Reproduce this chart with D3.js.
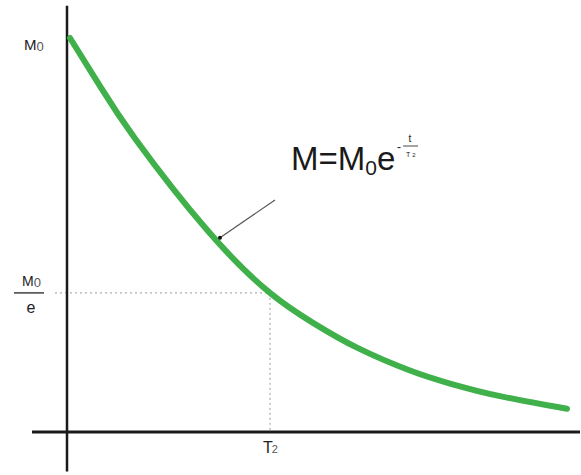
<!DOCTYPE html>
<html>
<head>
<meta charset="utf-8">
<script src="https://cdn.jsdelivr.net/npm/d3@7"></script>
<style>
  html, body { margin: 0; padding: 0; background: #fff; }
  svg { display: block; font-family: "Liberation Sans", Arial, sans-serif; }
</style>
</head>
<body>
<div id="chart"></div>
<script>
// ---- Data (t in units of T2, M in units of M0) ----
const tValues = [0, 0.15, 0.325, 0.69, 1.0, 1.215, 1.435, 1.70, 1.90, 2.15, 2.485];
const mValues = [1.0, 0.878, 0.745, 0.510, 0.353, 0.277, 0.214, 0.156, 0.123, 0.091, 0.059];
const guideT = [1.0];          // T2
const guideM = [0.353];        // M0/e level
const markerT = [0.75];        // annotation point on curve
const markerM = [0.493];
const axisLabelsY = ["M", "0"];
const formulaParts = ["M=M", "0", "e"];
const xTickLabel = ["T", "2"];

const W = 581, H = 475;
const svg = d3.select("#chart").append("svg").attr("width", W).attr("height", H);

const x = d3.scaleLinear().domain([0, 1]).range([70, 270]);
const y = d3.scaleLinear().domain([0, 1]).range([432, 38]);

// Dotted guides
svg.append("line")
  .attr("x1", x(-0.075)).attr("x2", x(guideT[0]))
  .attr("y1", y(guideM[0])).attr("y2", y(guideM[0]))
  .attr("stroke", "#9a9a9a").attr("stroke-width", 1).attr("stroke-dasharray", "2,3");
svg.append("line")
  .attr("x1", x(guideT[0])).attr("x2", x(guideT[0]))
  .attr("y1", y(guideM[0])).attr("y2", y(0))
  .attr("stroke", "#9a9a9a").attr("stroke-width", 1).attr("stroke-dasharray", "2,3");

// Axes
svg.append("line")
  .attr("x1", x(-0.015)).attr("x2", x(-0.015))
  .attr("y1", y(1.082)).attr("y2", y(-0.1))
  .attr("stroke", "#1a1a1a").attr("stroke-width", 2.5);
svg.append("line")
  .attr("x1", x(-0.19)).attr("x2", x(2.55))
  .attr("y1", y(0)).attr("y2", y(0))
  .attr("stroke", "#1a1a1a").attr("stroke-width", 3);

// Curve
const pts = tValues.map((t, i) => [t, mValues[i]]);
const line = d3.line().x(d => x(d[0])).y(d => y(d[1])).curve(d3.curveNatural);
svg.append("path").datum(pts)
  .attr("d", line)
  .attr("fill", "none")
  .attr("stroke", "#3fb04a")
  .attr("stroke-width", 6)
  .attr("stroke-linecap", "round");

// Annotation pointer
svg.append("line")
  .attr("x1", x(markerT[0])).attr("y1", y(markerM[0]))
  .attr("x2", x(1.025)).attr("y2", y(0.589))
  .attr("stroke", "#555").attr("stroke-width", 1.2);
svg.append("circle")
  .attr("cx", x(markerT[0])).attr("cy", y(markerM[0])).attr("r", 2)
  .attr("fill", "#111");

// Y label M0
const lab1 = svg.append("text").attr("x", 24).attr("y", y(1) + 12).attr("fill", "#222");
lab1.append("tspan").attr("font-size", 15).text(axisLabelsY[0]);
lab1.append("tspan").attr("font-size", 13).attr("fill", "#555").attr("dy", 1).text(axisLabelsY[1]);

// Y label M0/e
const lab2 = svg.append("text").attr("x", 22).attr("y", y(guideM[0]) - 7).attr("fill", "#222");
lab2.append("tspan").attr("font-size", 14).text(axisLabelsY[0]);
lab2.append("tspan").attr("font-size", 13).attr("fill", "#555").attr("dy", 1).text(axisLabelsY[1]);
svg.append("line").attr("x1", 14).attr("x2", 44)
  .attr("y1", y(guideM[0])).attr("y2", y(guideM[0]))
  .attr("stroke", "#222").attr("stroke-width", 1.3);
svg.append("text").attr("x", 31).attr("y", y(guideM[0]) + 20)
  .attr("text-anchor", "middle").attr("font-size", 16).attr("fill", "#222").text("e");

// X label T2
const lab3 = svg.append("text").attr("x", x(guideT[0]) - 7).attr("y", y(0) + 21).attr("fill", "#222");
lab3.append("tspan").attr("font-size", 16).text(xTickLabel[0]);
lab3.append("tspan").attr("font-size", 11).attr("fill", "#555").attr("dx", -1).text(xTickLabel[1]);

// Formula
const f = svg.append("text").attr("x", 291).attr("y", 170).attr("fill", "#1a1a1a");
f.append("tspan").attr("font-size", 33).text(formulaParts[0]);
f.append("tspan").attr("font-size", 21).attr("dy", 5).text(formulaParts[1]);
f.append("tspan").attr("font-size", 33).attr("dy", -5).text(formulaParts[2]);
// exponent -t/T2
svg.append("text").attr("x", 397).attr("y", 151).attr("font-size", 12).attr("fill", "#1a1a1a").text("-");
svg.append("text").attr("x", 410).attr("y", 142).attr("font-size", 10).attr("text-anchor", "middle").attr("fill", "#1a1a1a").text("t");
svg.append("line").attr("x1", 403).attr("x2", 418).attr("y1", 146).attr("y2", 146)
  .attr("stroke", "#1a1a1a").attr("stroke-width", 0.8);
const ex = svg.append("text").attr("x", 406).attr("y", 157).attr("font-size", 7).attr("fill", "#1a1a1a");
ex.append("tspan").text("T");
ex.append("tspan").attr("dx", 2).attr("font-size", 6).text("2");
</script>
</body>
</html>
